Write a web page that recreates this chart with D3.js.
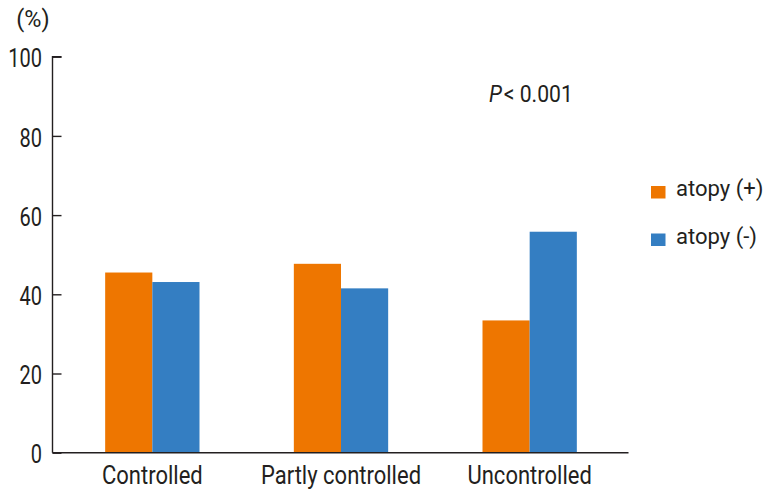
<!DOCTYPE html>
<html>
<head>
<meta charset="utf-8">
<script src="https://cdn.jsdelivr.net/npm/d3@7"></script>
<style>
  html, body { margin: 0; padding: 0; background: #fff; }
  svg text { font-family: "Roboto", "Liberation Sans", sans-serif; fill: #231f20; }
</style>
</head>
<body>
<svg id="chart" width="773" height="493"></svg>
<script>
const categories = ["Controlled", "Partly controlled", "Uncontrolled"];
const seriesNames = ["atopy (+)", "atopy (-)"];
const atopyPos = [45.5, 47.7, 33.4];
const atopyNeg = [43.1, 41.5, 55.8];
const yTicks = [0, 20, 40, 60, 80, 100];
const colors = ["#ee7600", "#347ec2"];

const svg = d3.select("#chart");
const axisColor = "#231f20";

// condense text horizontally to mimic a condensed typeface
function condense(sel, f) {
  sel.each(function () {
    const w = this.getComputedTextLength();
    d3.select(this).attr("textLength", w * f).attr("lengthAdjust", "spacingAndGlyphs");
  });
}

const y = d3.scaleLinear().domain([0, 100]).range([452.7, 56.7]);
const x0 = d3.scaleBand().domain(categories).range([58, 624]).padding(0);
const x1 = d3.scaleBand().domain(seriesNames).range([0, x0.bandwidth()]).paddingInner(0).paddingOuter(1.0);
const color = d3.scaleOrdinal().domain(seriesNames).range(colors);

const data = categories.map((c, i) => ({ cat: c, vals: [atopyPos[i], atopyNeg[i]] }));

// bars
const g = svg.append("g");
g.selectAll("g.grp").data(data).join("g")
  .attr("class", "grp")
  .attr("transform", d => `translate(${x0(d.cat)},0)`)
  .selectAll("rect").data(d => d.vals.map((v, k) => ({ s: seriesNames[k], v })))
  .join("rect")
  .attr("x", d => x1(d.s))
  .attr("width", x1.bandwidth())
  .attr("y", d => y(d.v))
  .attr("height", d => y(0) - y(d.v))
  .attr("fill", d => color(d.s));

// y axis
const yAxis = d3.axisRight(y).tickValues(yTicks).tickSize(9).tickFormat("");
const ya = svg.append("g").attr("transform", "translate(52.5,0)").call(yAxis);
ya.select(".domain").attr("stroke", axisColor).attr("stroke-width", 1.4).attr("d", `M9,${y(100)}H0V${y(0)}`);
ya.selectAll(".tick line").attr("stroke", axisColor).attr("stroke-width", 1.4);

const yl = svg.append("g").selectAll("text").data(yTicks).join("text")
  .attr("x", 42)
  .attr("y", d => y(d))
  .attr("dy", "0.43em")
  .attr("text-anchor", "end")
  .style("font-size", "25px")
  .text(d => d);
condense(yl, 0.8);

// x axis line
const xAxis = d3.axisBottom(x0).tickSize(0).tickFormat("");
const xa = svg.append("g").attr("transform", `translate(0,${y(0)})`).call(xAxis);
xa.select(".domain").attr("stroke", axisColor).attr("stroke-width", 1.6).attr("d", "M52.5,0H628.5");

const xl = svg.append("g").selectAll("text").data(categories).join("text")
  .attr("x", d => x0(d) + x0.bandwidth() / 2)
  .attr("y", 484.3)
  .attr("text-anchor", "middle")
  .style("font-size", "25px")
  .text(d => d);
condense(xl, 0.88);

// unit label
const ul = svg.append("text").attr("x", 33).attr("y", 27).attr("text-anchor", "middle")
  .style("font-size", "23px").text("(%)");
condense(ul, 1.02);

// P value
const pt = svg.append("text").attr("x", 489).attr("y", 102.3).style("font-size", "24px");
pt.append("tspan").style("font-style", "italic").text("P");
pt.append("tspan").attr("dx", 2).text("< 0.001");
condense(pt, 0.9);

// legend
const leg = svg.append("g").selectAll("g").data(seriesNames).join("g")
  .attr("transform", (d, i) => `translate(651,${186 + i * 47.5})`);
leg.append("rect").attr("width", 14.5).attr("height", 12.5).attr("fill", d => color(d));
const lt = leg.append("text").attr("x", 25).attr("y", 10.3).style("font-size", "22.5px").text(d => d);
condense(lt, 0.98);
</script>
</body>
</html>
